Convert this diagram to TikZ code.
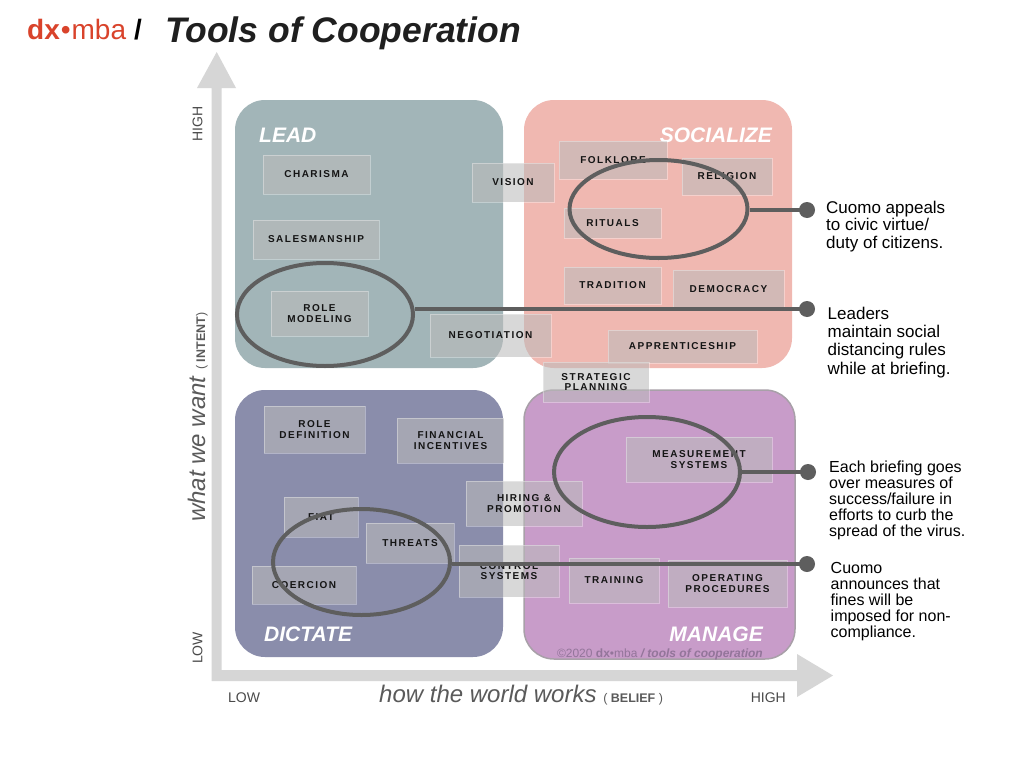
\documentclass[tikz,border=0pt]{standalone}
\usepackage{fontspec}
\setmainfont{Liberation Sans}
\newfontfamily\tagfont[LetterSpace=15]{Liberation Sans}
\usetikzlibrary{shapes.geometric}
\definecolor{leadc}{HTML}{A2B5B8}
\definecolor{socc}{HTML}{F0B8B1}
\definecolor{dictc}{HTML}{8A8DAB}
\definecolor{manc}{HTML}{C89CC9}
\definecolor{manborder}{HTML}{A8A0A8}
\definecolor{axisc}{HTML}{D6D6D6}
\definecolor{ringc}{HTML}{5E5E5E}
\definecolor{dxred}{HTML}{D9432B}
\definecolor{tagc}{HTML}{BBBBBB}
\definecolor{axtext}{HTML}{4A4A4A}
\definecolor{axital}{HTML}{5A5A5A}
\definecolor{copyc}{HTML}{93759A}
\begin{document}
\begin{tikzpicture}[x=1pt,y=-1pt,
  quad/.style={rounded corners=30pt},
  tag/.style={rectangle, fill=tagc, fill opacity=0.56, draw=white, draw opacity=0.35,
    line width=0.8pt, text opacity=1, text=black!92, inner sep=0pt, align=center,
    font={\tagfont\bfseries\fontsize{10}{10.8}\selectfont}},
  quadlabel/.style={text=white, inner sep=0pt, font={\bfseries\itshape\fontsize{21}{21}\selectfont}},
  ring/.style={ellipse, draw=ringc, line width=4pt, inner sep=0pt},
  conn/.style={draw=ringc, line width=4pt},
  dot/.style={circle, fill=ringc, minimum size=16pt, inner sep=0pt},
  note/.style={anchor=base west, align=left, inner sep=0pt, text=black},
  axcap/.style={text=axtext, inner sep=0pt, font={\fontsize{14}{14}\selectfont}}
]
\useasboundingbox (0,0) rectangle (1024,768);
\fill[white] (0,0) rectangle (1024,768);

% quadrants
\fill[leadc, quad] (235,100) rectangle (503,368);
\fill[socc, quad] (524,100) rectangle (792,368);
\fill[dictc, quad] (235,390) rectangle (503,657);
\filldraw[fill=manc, draw=manborder, line width=1.5pt, quad] (524,390) rectangle (795,659);

% axes
\fill[axisc] (197,88) -- (216.7,52) -- (236,88) -- (221.7,88) -- (221.7,670)
  -- (797,670) -- (797,654) -- (833,675.5) -- (797,697) -- (797,681)
  -- (211.7,681) -- (211.7,88) -- cycle;

% quadrant labels
\node[quadlabel, anchor=base west] (lead) at (259,142) {LEAD};
\node[quadlabel, anchor=base east] (soc) at (772,142) {SOCIALIZE};
\node[quadlabel, anchor=base west] (dict) at (264,641) {DICTATE};
\node[quadlabel, anchor=base east] (man) at (763,641) {MANAGE};
\node[anchor=base east, inner sep=0pt, text=copyc, font={\fontsize{12}{12}\selectfont}] (copy) at (763,657)
  {©2020 \textbf{dx}•mba \textbf{\itshape/ tools of cooperation}};

% axis labels
\node[axcap, rotate=90] (yhigh) at (197.5,124) {HIGH};
\node[axcap, rotate=90] (ylow) at (197.5,648) {LOW};
\node[axcap, anchor=base west] (xlow) at (228,702) {LOW};
\node[axcap, anchor=base east] (xhigh) at (786,702) {HIGH};
\node[anchor=base west, inner sep=0pt, text=axital, font={\itshape\fontsize{24}{24}\selectfont}] (xlab) at (379,702)
  {how the world works {\upshape\fontsize{12.5}{12.5}\selectfont ( \textbf{BELIEF} )}};
\node[anchor=base west, inner sep=0pt, rotate=90, text=axital, font={\itshape\fontsize{24}{24}\selectfont}] (ylab) at (205,522)
  {what we want {\upshape\fontsize{12.5}{12.5}\selectfont ( \textbf{INTENT})}};

% tags
\node[tag, minimum width=107pt, minimum height=39pt] (charisma) at (316.5,174.5) {CHARISMA};
\node[tag, minimum width=126pt, minimum height=39pt] (sales) at (316,239.5) {SALESMANSHIP};
\node[tag, minimum width=97pt, minimum height=45pt] (rolemod) at (319.5,313.5) {ROLE\\MODELING};
\node[tag, minimum width=82pt, minimum height=39pt] (vision) at (513,182.5) {VISION};
\node[tag, minimum width=121pt, minimum height=43pt] (nego) at (490.5,335.5) {NEGOTIATION};
\node[tag, minimum width=108pt, minimum height=38pt] (folk) at (613,160) {FOLKLORE};
\node[tag, minimum width=90pt, minimum height=37pt] (relig) at (727,176.5) {RELIGION};
\node[tag, minimum width=97pt, minimum height=30pt] (ritual) at (612.5,223) {RITUALS};
\node[tag, minimum width=97pt, minimum height=37pt] (trad) at (612.5,285.5) {TRADITION};
\node[tag, minimum width=111pt, minimum height=38pt] (demo) at (728.5,289) {DEMOCRACY};
\node[tag, minimum width=149pt, minimum height=33pt] (appr) at (682.5,346.5) {APPRENTICESHIP};
\node[tag, minimum width=106pt, minimum height=40pt] (strat) at (596,382) {STRATEGIC\\PLANNING};
\node[tag, minimum width=101pt, minimum height=47pt] (roledef) at (314.5,429.5) {ROLE\\DEFINITION};
\node[tag, minimum width=107pt, minimum height=45pt] (fin) at (450.5,440.5) {FINANCIAL\\INCENTIVES};
\node[tag, minimum width=74pt, minimum height=40pt] (fiat) at (321,517) {FIAT};
\node[tag, minimum width=88pt, minimum height=40pt] (threat) at (410,543) {THREATS};
\node[tag, minimum width=104pt, minimum height=38pt] (coer) at (304,585) {COERCION};
\node[tag, minimum width=116pt, minimum height=45pt] (hiring) at (524,503.5) {HIRING \&\\PROMOTION};
\node[tag, minimum width=100pt, minimum height=52pt] (control) at (509,571) {CONTROL\\SYSTEMS};
\node[tag, minimum width=146pt, minimum height=45pt] (measure) at (699,459.5) {MEASUREMENT\\SYSTEMS};
\node[tag, minimum width=90pt, minimum height=45pt] (train) at (614,580.5) {TRAINING};
\node[tag, minimum width=119pt, minimum height=47pt] (oper) at (727.5,583.5) {OPERATING\\PROCEDURES};

% rings, connectors, dots
\node[ring, minimum width=178pt, minimum height=98pt] (e1) at (658.5,209) {};
\node[ring, minimum width=176pt, minimum height=103pt] (e2) at (325,314.5) {};
\node[ring, minimum width=186pt, minimum height=110pt] (e3) at (647,472) {};
\node[ring, minimum width=177pt, minimum height=106pt] (e4) at (361.5,562) {};
\node[dot] (d1) at (807,210) {};
\node[dot] (d2) at (807,309) {};
\node[dot] (d3) at (808,472) {};
\node[dot] (d4) at (807,564) {};
\draw[conn] (d1.center) -- (d1.center -| e1.east);
\draw[conn] (d2.center) -- (d2.center -| e2.east);
\draw[conn] (d3.center) -- (d3.center -| e3.east);
\draw[conn] (d4.center) -- (d4.center -| e4.east);

% notes (anchored at the baseline of the last line)
\node[note, font={\fontsize{17}{17.5}\selectfont}] (n1) at (826,248.3)
  {Cuomo appeals\\to civic virtue/\\duty of citizens.};
\node[note, font={\fontsize{17}{18.4}\selectfont}] (n2) at (827.5,374.2)
  {Leaders\\maintain social\\distancing rules\\while at briefing.};
\node[note, font={\fontsize{16}{16}\selectfont}] (n3) at (829,536.5)
  {Each briefing goes\\over measures of\\success/failure in\\efforts to curb the\\spread of the virus.};
\node[note, font={\fontsize{16}{16}\selectfont}] (n4) at (830.5,637)
  {Cuomo\\announces that\\fines will be\\imposed for non-\\compliance.};

% title
\node[anchor=base west, inner sep=0pt, text=dxred, font={\fontsize{28}{28}\selectfont}] (brand) at (27,40)
  {\textbf{dx}\kern1pt•\kern1pt mba};
\node[anchor=base west, inner sep=0pt, text=black, font={\bfseries\fontsize{28}{28}\selectfont}] (slash) at (134,40) {/};
\node[anchor=base west, inner sep=0pt, text=black!88, font={\bfseries\itshape\fontsize{35.5}{36}\selectfont}] (title) at (165,43)
  {Tools of Cooperation};
\end{tikzpicture}
\end{document}
